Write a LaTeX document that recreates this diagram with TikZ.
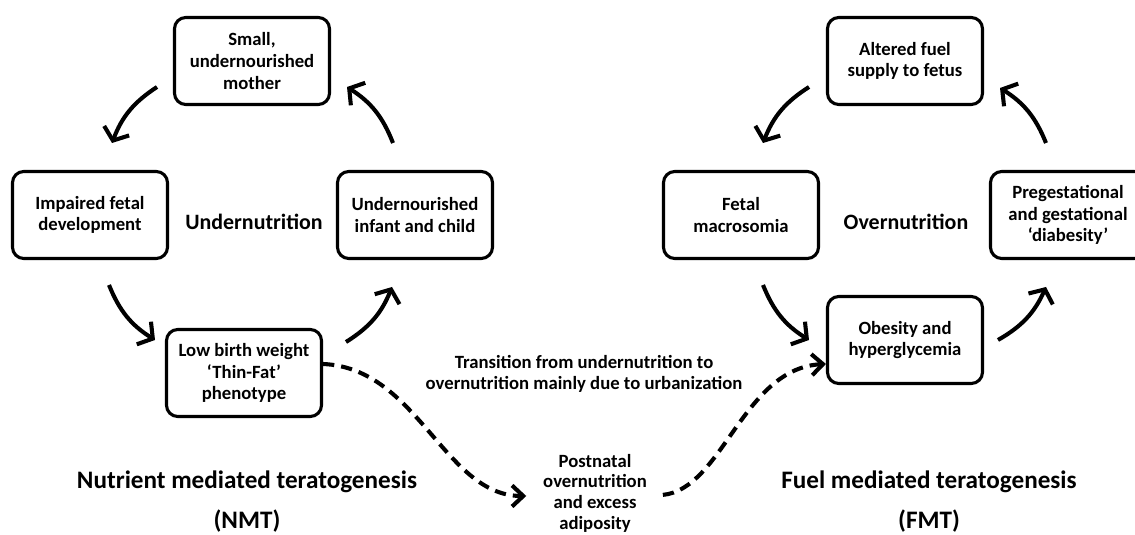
\documentclass[tikz,border=0pt]{standalone}
\usepackage{fontspec}
\setmainfont{Carlito}
\usetikzlibrary{arrows.meta,positioning}

\tikzset{
  stagebox/.style={draw,line width=2.2pt,rounded corners=8pt,align=center,
    minimum width=3.875cm,minimum height=2.175cm,inner sep=2pt,
    font=\fontsize{13.3}{15.4}\selectfont\bfseries},
  plaintext/.style={align=center,font=\fontsize{13.3}{14.7}\selectfont\bfseries},
  cycletitle/.style={font=\fontsize{15.6}{18}\selectfont\bfseries},
  bigtitle/.style={align=center,font=\fontsize{17.9}{28.5}\selectfont\bfseries},
  cyclearrow/.style={line width=2.9pt,-{Straight Barb[length=7.5pt,width=19pt]},bend right=18},
  shiftarrow/.style={line width=2.9pt,dash pattern=on 8pt off 5pt,
    -{Straight Barb[length=8pt,width=15pt]}},
}

\begin{document}
\begin{tikzpicture}
  \clip (0,0) rectangle (28.375,13.375);

  % undernutrition cycle
  \node[stagebox] (mother) at (6.3,11.85) {Small,\\undernourished\\mother};
  \node[stagebox] (impaired) at (2.25,8.0) {Impaired fetal\\development};
  \node[stagebox] (infant) at (10.375,8.0) {Undernourished\\infant and child};
  \node[stagebox] (lbw) at (6.1,4.05) {Low birth weight\\‘Thin-Fat’\\phenotype};
  \node[cycletitle] (under) at (6.35,7.825) {Undernutrition};

  % overnutrition cycle
  \node[stagebox] (altered) at (22.625,11.85) {Altered fuel\\supply to fetus};
  \node[stagebox] (fetal) at (18.525,8.0) {Fetal\\macrosomia};
  \node[stagebox] (pregest) at (26.7,8.0) {Pregestational\\and gestational\\‘diabesity’};
  \node[stagebox] (obesity) at (22.625,4.875) {Obesity and\\hyperglycemia};
  \node[cycletitle] (over) at (22.65,7.825) {Overnutrition};

  \node[plaintext] (trans) at (14.6,4.025) {Transition from undernutrition to\\overnutrition mainly due to urbanization};
  \node[plaintext] (post) at (14.875,1.05) {Postnatal\\overnutrition\\and excess\\adiposity};

  \node[bigtitle] (nmt) at (6.175,0.825) {Nutrient mediated teratogenesis\\(NMT)};
  \node[bigtitle] (fmt) at (23.225,0.825) {Fuel mediated teratogenesis\\(FMT)};

  % arrow ends
  \coordinate (a1s) at (3.925,11.2);  \coordinate (a1e) at (2.8,9.8);
  \coordinate (a2s) at (2.725,6.25);  \coordinate (a2e) at (3.875,4.875);
  \coordinate (a3s) at (8.65,4.825);  \coordinate (a3e) at (9.8,6.2);
  \coordinate (a4s) at (9.825,9.8);   \coordinate (a4e) at (8.675,11.2);
  \coordinate (b1s) at (20.225,11.2); \coordinate (b1e) at (19.075,9.8);
  \coordinate (b2s) at (19.075,6.25); \coordinate (b2e) at (20.225,4.875);
  \coordinate (b3s) at (24.95,4.875); \coordinate (b3e) at (26.15,6.2);
  \coordinate (b4s) at (26.15,9.8);   \coordinate (b4e) at (25.0,11.175);

  \foreach \s/\e in {a1s/a1e, a2s/a2e, a3s/a3e, a4s/a4e, b1s/b1e, b2s/b2e, b3s/b3e, b4s/b4e}
    \draw[cyclearrow] (\s) to (\e);

  % transition
  \draw[shiftarrow,shorten >=0.3cm] ([yshift=0.225cm]lbw.east)
    .. controls +(2.375,-0.1) and +(-2.35,0) .. ([yshift=-0.075cm]post.west);
  \draw[shiftarrow,shorten <=0.28cm] ([yshift=-0.075cm]post.east)
    .. controls +(1.775,0.175) and +(-2.075,-0.1) .. ([yshift=-0.6cm]obesity.west);
\end{tikzpicture}
\end{document}
